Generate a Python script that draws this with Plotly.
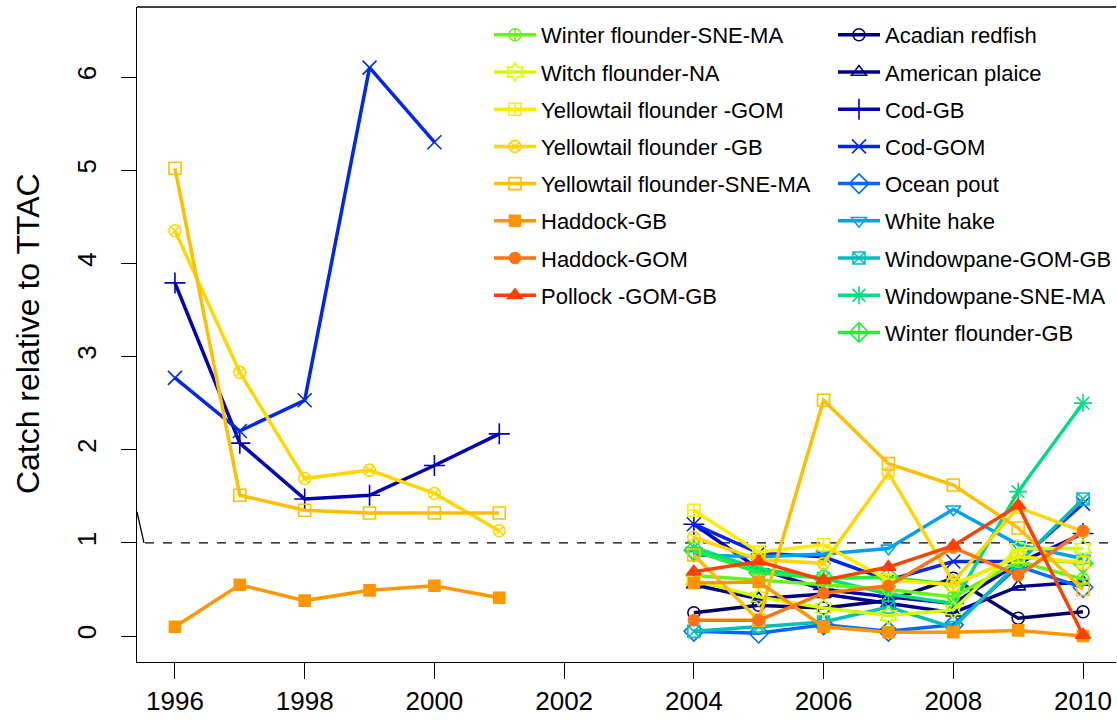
import plotly.graph_objects as go

N = None
years = [1996, 1997, 1998, 1999, 2000, 2001, 2002, 2003, 2004, 2005, 2006, 2007, 2008, 2009, 2010]
x_ticks = [1996, 1998, 2000, 2002, 2004, 2006, 2008, 2010]
y_ticks = [0, 1, 2, 3, 4, 5, 6]

acadian_redfish       = [N, N, N, N, N, N, N, N, 0.25, 0.33, 0.30, 0.38, 0.62, 0.19, 0.26]
american_plaice       = [N, N, N, N, N, N, N, N, 0.55, 0.40, 0.45, 0.35, 0.25, 0.53, 0.58]
cod_gb                = [3.79, 2.07, 1.47, 1.51, 1.83, 2.17, N, N, 1.20, 0.72, 0.50, 0.42, 0.35, 0.78, 1.10]
cod_gom               = [2.77, 2.20, 2.53, 6.10, 5.30, N, N, N, 1.20, 0.89, 0.85, 0.60, 0.80, 0.80, 1.42]
ocean_pout            = [N, N, N, N, N, N, N, N, 0.05, 0.03, 0.12, 0.05, 0.12, 0.75, 0.52]
white_hake            = [N, N, N, N, N, N, N, N, 0.87, 0.85, 0.88, 0.94, 1.36, 0.98, 0.83]
windowpane_gom_gb     = [N, N, N, N, N, N, N, N, 0.05, 0.10, 0.15, 0.31, 0.09, 0.78, 1.47]
windowpane_sne_ma     = [N, N, N, N, N, N, N, N, 0.95, 0.72, 0.62, 0.45, 0.35, 1.55, 2.50]
winter_flounder_gb    = [N, N, N, N, N, N, N, N, 0.92, 0.68, 0.62, 0.63, 0.55, 0.85, 0.78]
winter_flounder_snema = [N, N, N, N, N, N, N, N, 0.65, 0.60, 0.55, 0.50, 0.42, 0.80, 0.61]
witch_flounder        = [N, N, N, N, N, N, N, N, 0.60, 0.42, 0.30, 0.22, 0.28, 0.94, 0.94]
yellowtail_gom        = [N, N, N, N, N, N, N, N, 1.35, 0.90, 0.98, 0.60, 0.55, 0.85, 0.79]
yellowtail_gb         = [4.35, 2.83, 1.69, 1.78, 1.53, 1.13, N, N, 1.06, 0.82, 0.78, 1.75, 0.58, 1.38, 1.12]
yellowtail_snema      = [5.02, 1.51, 1.35, 1.32, 1.32, 1.32, N, N, 0.87, 0.17, 2.53, 1.85, 1.62, 1.16, 0.50]
haddock_gb            = [0.10, 0.55, 0.38, 0.49, 0.54, 0.41, N, N, 0.57, 0.58, 0.10, 0.04, 0.04, 0.06, 0.00]
haddock_gom           = [N, N, N, N, N, N, N, N, 0.17, 0.17, 0.46, 0.54, 0.95, 0.65, 1.13]
pollock               = [N, N, N, N, N, N, N, N, 0.69, 0.80, 0.60, 0.74, 0.97, 1.40, 0.01]

names = ["Acadian redfish", "American plaice", "Cod-GB", "Cod-GOM", "Ocean pout",
         "White hake", "Windowpane-GOM-GB", "Windowpane-SNE-MA", "Winter flounder-GB",
         "Winter flounder-SNE-MA", "Witch flounder-NA", "Yellowtail flounder -GOM",
         "Yellowtail flounder -GB", "Yellowtail flounder-SNE-MA", "Haddock-GB",
         "Haddock-GOM", "Pollock -GOM-GB"]
series = [acadian_redfish, american_plaice, cod_gb, cod_gom, ocean_pout, white_hake,
          windowpane_gom_gb, windowpane_sne_ma, winter_flounder_gb, winter_flounder_snema,
          witch_flounder, yellowtail_gom, yellowtail_gb, yellowtail_snema, haddock_gb,
          haddock_gom, pollock]

colors = ["#000066", "#00008C", "#0000B4", "#0028E6", "#0068FF", "#00A0F0", "#00BEBE",
          "#00DC82", "#1EF03C", "#64F514", "#D2FF00", "#FFEB00", "#FFD700", "#FFBE00",
          "#FF9600", "#FF7314", "#FF4100"]
symbols = ["circle-open", "triangle-up-open", "cross-thin-open", "x-thin-open", "diamond-open",
           "triangle-down-open", "square-x-open", "asterisk-open", "diamond-cross-open",
           "circle-cross-open", "hexagram-open", "square-cross-open", "circle-x-open",
           "square-open", "square", "circle", "triangle-up"]
msizes = [12, 13, 15, 14, 15, 13, 12, 15, 15, 12, 14, 12, 12, 12, 11, 11, 13]

FONT = "Liberation Sans, Arial, sans-serif"

fig = go.Figure()
for i, (nm, vals) in enumerate(zip(names, series)):
    fig.add_trace(go.Scatter(
        x=years, y=vals, name=nm, mode="lines+markers", connectgaps=False,
        line=dict(color=colors[i], width=3.5),
        marker=dict(symbol=symbols[i], size=msizes[i], color=colors[i],
                    line=dict(color=colors[i], width=1.6)),
        legend="legend2" if i < 9 else "legend",
        legendgroup=nm,
    ))

W, H = 1117, 726
L, R, T, B = 137, 0, 7, 64
pw, ph = W - L - R, H - T - B
px_per_year = (1084 - 175) / 14.0
x0 = 1996 - (175 - L) / px_per_year
x1 = 2010 + (W - R - 1084) / px_per_year
px_per_unit = (636 - 77) / 6.0
y0 = -(H - B - 636) / px_per_unit
y1 = (636 - T) / px_per_unit

def py(p):
    return (H - B - p) / ph

def pxp(p):
    return (p - L) / pw

leg_common = dict(xanchor="left", yanchor="top", bgcolor="rgba(0,0,0,0)",
                  font=dict(family=FONT, size=22, color="#000"),
                  itemwidth=42, tracegroupgap=5.6, traceorder="grouped")

fig.update_layout(
    width=W, height=H,
    margin=dict(l=L, r=R, t=T, b=B),
    paper_bgcolor="white", plot_bgcolor="white",
    font=dict(family=FONT, color="#000"),
    legend=dict(x=pxp(489), y=py(14), **leg_common),
    legend2=dict(x=pxp(834), y=py(14), **leg_common),
    xaxis=dict(range=[x0, x1], tickvals=x_ticks, ticks="outside", ticklen=16, tickwidth=1.3,
               tickcolor="#000", showgrid=False, zeroline=False, showline=True,
               linecolor="#000", linewidth=1.3, tickfont=dict(size=26, family=FONT, color="#000"),
               ticklabelstandoff=0),
    yaxis=dict(range=[y0, y1], tickvals=y_ticks, ticks="outside", ticklen=15, tickwidth=1.3,
               tickcolor="#000", showgrid=False, zeroline=False, showline=True,
               linecolor="#000", linewidth=1.3, tickangle=-90,
               tickfont=dict(size=26, family=FONT, color="#000"), ticklabelstandoff=14),
    shapes=[
        dict(type="line", xref="paper", yref="paper", x0=0, x1=1, y0=1, y1=1,
             line=dict(color="#000", width=1.3)),
        dict(type="line", xref="paper", yref="y", x0=pxp(145), x1=1, y0=1, y1=1,
             line=dict(color="#000", width=1.3, dash="dash"), layer="below"),
        dict(type="line", xref="paper", yref="y", x0=0, x1=pxp(144), y0=1 + 31 / px_per_unit, y1=1,
             line=dict(color="#000", width=1.3)),
    ],
    annotations=[
        dict(text="Catch relative to TTAC", xref="paper", yref="paper", x=pxp(28), y=py(334),
             textangle=-90, showarrow=False, xanchor="center", yanchor="middle",
             font=dict(family=FONT, size=32, color="#000")),
    ],
)

fig.write_html("out.html")
